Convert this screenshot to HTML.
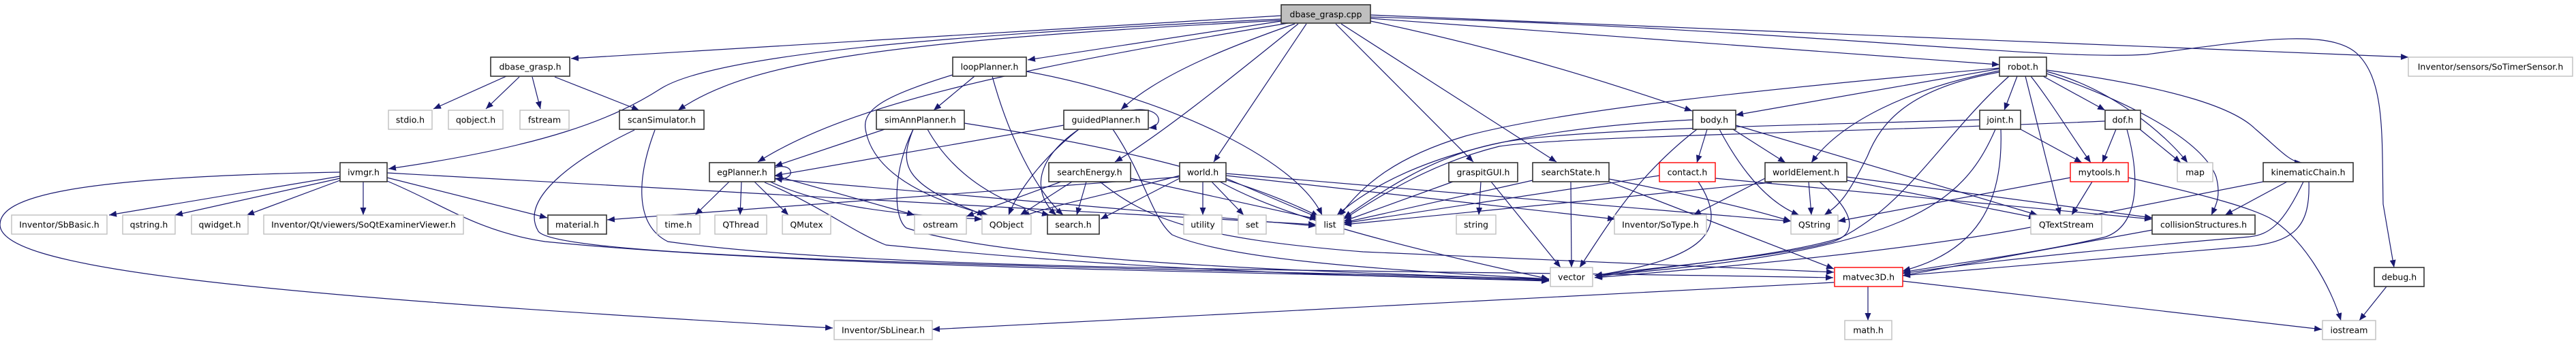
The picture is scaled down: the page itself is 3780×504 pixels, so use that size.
<!DOCTYPE html>
<html><head><meta charset="utf-8"><style>
html,body{margin:0;padding:0;background:#fff;}
svg{display:block;}
text{font-family:"DejaVu Sans","Liberation Sans",sans-serif;font-size:12.5px;fill:#000;text-anchor:middle;dominant-baseline:central;}
.e{fill:none;stroke:#191970;stroke-width:1.2;marker-end:url(#a);}
.b{fill:#fff;stroke:#333;stroke-width:1.6;}
.g{fill:#fff;stroke:#bfbfbf;stroke-width:1.4;}
.r{fill:#fff;stroke:#ff0000;stroke-width:1.4;}
</style></head><body>
<svg width="3780" height="504" viewBox="0 0 3780 504" xmlns="http://www.w3.org/2000/svg">
<defs><marker id="a" markerUnits="userSpaceOnUse" markerWidth="12" markerHeight="9" refX="11" refY="4.5" orient="auto"><path d="M0,0 L11,4.5 L0,9 z" fill="#191970"/></marker></defs>
<g>
<path class="e" d="M1880,23 L838,86"/>
<path class="e" d="M1880,28 C1400,50 1050,80 970,130 C900,175 800,215 570,248"/>
<path class="e" d="M1880,30 C1300,60 1100,90 995,162"/>
<path class="e" d="M1890,34 C1500,100 1250,150 1112,238"/>
<path class="e" d="M1880,31 L1508,88"/>
<path class="e" d="M1900,35 C1800,70 1700,110 1645,161"/>
<path class="e" d="M1905,35 C1800,120 1700,200 1636,238"/>
<path class="e" d="M1917,35 L1781,238"/>
<path class="e" d="M1960,35 L2162,238"/>
<path class="e" d="M1968,35 L2284,238"/>
<path class="e" d="M2011,31 C2150,60 2300,100 2483,163"/>
<path class="e" d="M2011,27 L2934,95"/>
<path class="e" d="M2011,22 L3534,84"/>
<path class="e" d="M2011,25 C2600,40 3000,90 3150,80 C3300,60 3420,40 3460,80 C3500,120 3495,200 3497,300 L3513,393"/>
<path class="e" d="M743,112 L636,160"/>
<path class="e" d="M762,113 L713,160"/>
<path class="e" d="M781,113 L793,160"/>
<path class="e" d="M814,113 L938,162"/>
<path class="e" d="M931,191 C850,230 760,290 790,340 C820,380 1500,390 2273,410"/>
<path class="e" d="M961,191 C935,260 930,330 980,355 C1300,400 2000,395 2690,408"/>
<path class="e" d="M499,259 L160,316"/>
<path class="e" d="M499,262 L257,316"/>
<path class="e" d="M499,265 L362,316"/>
<path class="e" d="M533,267 L533,316"/>
<path class="e" d="M568,261 L803,320"/>
<path class="e" d="M499,253 C100,260 0,290 0,330 C0,390 300,430 1222,482"/>
<path class="e" d="M568,266 C650,300 700,340 800,355 C1200,395 1900,400 2273,412"/>
<path class="e" d="M568,254 L1931,330"/>
<path class="e" d="M1070,267 L1020,316"/>
<path class="e" d="M1088,267 L1086,316"/>
<path class="e" d="M1107,267 L1157,316"/>
<path class="e" d="M1137,246 C1168,238 1168,268 1137,262"/>
<path class="e" d="M1137,258 L1342,316"/>
<path class="e" d="M1130,267 C1200,300 1300,315 1441,322"/>
<path class="e" d="M1137,263 L1931,332"/>
<path class="e" d="M1122,268 C1200,300 1250,340 1300,360 C1700,400 2000,405 2273,413"/>
<path class="e" d="M1430,112 L1370,162"/>
<path class="e" d="M1456,112 C1480,200 1520,280 1560,316"/>
<path class="e" d="M1506,105 C1700,140 1900,230 1940,316"/>
<path class="e" d="M1398,110 C1300,140 1265,160 1270,190 C1280,250 1350,290 1450,316"/>
<path class="e" d="M1298,190 L1137,244"/>
<path class="e" d="M1340,190 C1320,240 1320,270 1445,316"/>
<path class="e" d="M1361,190 C1400,260 1470,300 1540,316"/>
<path class="e" d="M1415,181 C1600,210 1800,250 1935,318"/>
<path class="e" d="M1340,190 C1310,250 1310,320 1330,335 C1500,390 2000,400 2273,411"/>
<path class="e" d="M1660,162 C1705,155 1710,185 1686,188"/>
<path class="e" d="M1561,184 L1137,258"/>
<path class="e" d="M1583,190 C1520,240 1490,290 1480,316"/>
<path class="e" d="M1583,190 C1510,240 1520,290 1550,316"/>
<path class="e" d="M1633,190 C1680,260 1690,320 1720,345 C1800,380 2000,395 2273,410"/>
<path class="e" d="M1557,267 L1418,318"/>
<path class="e" d="M1573,267 L1497,316"/>
<path class="e" d="M1594,267 L1580,316"/>
<path class="e" d="M1614,267 C1680,320 1750,350 2000,370 C2300,385 2500,390 2691,400"/>
<path class="e" d="M1659,262 L1933,322"/>
<path class="e" d="M1765,267 L1765,316"/>
<path class="e" d="M1778,267 L1825,316"/>
<path class="e" d="M1799,262 L1935,320"/>
<path class="e" d="M1731,258 C1650,280 1550,300 1500,318"/>
<path class="e" d="M1731,262 L1615,322"/>
<path class="e" d="M1731,260 L891,323"/>
<path class="e" d="M1790,267 C1850,300 1950,340 2273,410"/>
<path class="e" d="M1799,255 L2628,325"/>
<path class="e" d="M1799,258 L2370,322"/>
<path class="e" d="M2173,267 L2170,316"/>
<path class="e" d="M2188,267 L2290,393"/>
<path class="e" d="M2132,267 L1972,325"/>
<path class="e" d="M2305,267 L2306,393"/>
<path class="e" d="M2249,265 L1972,327"/>
<path class="e" d="M2361,263 C2500,290 2580,310 2628,325"/>
<path class="e" d="M2361,267 L2691,395"/>
<path class="e" d="M2435,258 L1972,328"/>
<path class="e" d="M2492,267 C2540,340 2500,380 2340,405"/>
<path class="e" d="M2517,262 L3158,322"/>
<path class="e" d="M2505,190 L2490,239"/>
<path class="e" d="M2543,190 L2620,239"/>
<path class="e" d="M2484,176 C2200,190 2050,240 1962,316"/>
<path class="e" d="M2490,190 C2400,260 2360,330 2318,393"/>
<path class="e" d="M2523,190 C2560,260 2600,300 2640,316"/>
<path class="e" d="M2547,184 L2990,316"/>
<path class="e" d="M2654,267 L2658,316"/>
<path class="e" d="M2710,265 L2988,320"/>
<path class="e" d="M2590,262 L2485,316"/>
<path class="e" d="M2670,267 C2730,320 2720,345 2690,355 C2600,380 2400,395 2340,405"/>
<path class="e" d="M2710,260 L3158,320"/>
<path class="e" d="M2600,268 L1972,330"/>
<path class="e" d="M2934,101 L2547,169"/>
<path class="e" d="M2934,104 C2800,130 2700,180 2658,239"/>
<path class="e" d="M2960,112 L2941,162"/>
<path class="e" d="M2998,112 L3089,162"/>
<path class="e" d="M2980,112 C3010,150 3040,200 3068,239"/>
<path class="e" d="M2972,112 L3023,316"/>
<path class="e" d="M2934,106 C2800,130 2760,180 2740,230 C2710,290 2700,300 2677,316"/>
<path class="e" d="M2948,112 C2850,200 2800,300 2700,350 C2600,380 2400,395 2340,408"/>
<path class="e" d="M2934,100 C2600,130 2300,160 2150,200 C2050,230 2000,270 1965,318"/>
<path class="e" d="M3003,105 C3100,130 3180,200 3210,239"/>
<path class="e" d="M3003,103 C3200,130 3280,160 3310,190 C3340,215 3360,239 3378,239"/>
<path class="e" d="M3003,108 C3100,140 3230,200 3252,260 C3260,290 3250,305 3245,316"/>
<path class="e" d="M2965,190 L3055,239"/>
<path class="e" d="M2905,176 C2600,185 2300,190 2200,210 C2100,230 2030,280 1972,320"/>
<path class="e" d="M2928,190 C2880,300 2800,370 2340,405"/>
<path class="e" d="M2936,190 C2940,300 2900,370 2792,398"/>
<path class="e" d="M3105,190 L3085,239"/>
<path class="e" d="M3140,190 L3200,239"/>
<path class="e" d="M3089,178 C2700,195 2300,200 2200,215 C2100,240 2030,285 1972,322"/>
<path class="e" d="M3121,190 C3140,260 3140,330 3090,348 C3000,370 2850,390 2792,400"/>
<path class="e" d="M3070,267 L3040,316"/>
<path class="e" d="M3038,261 L2697,325"/>
<path class="e" d="M3123,261 C3250,290 3300,305 3330,320 C3380,350 3420,420 3435,471"/>
<path class="e" d="M3356,267 L3265,316"/>
<path class="e" d="M3321,267 L3000,330 C2800,370 2500,395 2340,408"/>
<path class="e" d="M3380,267 C3350,330 3330,345 3300,348 C3100,365 2900,385 2792,402"/>
<path class="e" d="M3388,267 C3390,330 3370,355 3300,362 L2792,405"/>
<path class="e" d="M3158,338 L2792,405"/>
<path class="e" d="M2741,421 L2741,471"/>
<path class="e" d="M2792,413 L3407,484"/>
<path class="e" d="M2691,415 L1368,484"/>
<path class="e" d="M3502,421 L3462,471"/>
</g>
<g>
<rect x="1880" y="7" width="131" height="27" fill="#bfbfbf" stroke="#333" stroke-width="1.6"/><text x="1945.5" y="21">dbase_grasp.cpp</text>

<rect class="b" x="720" y="84" width="116" height="28"/><text x="778" y="98">dbase_grasp.h</text>
<rect class="b" x="1398" y="84" width="108" height="28"/><text x="1452" y="98">loopPlanner.h</text>
<rect class="b" x="2934" y="84" width="69" height="28"/><text x="2968.5" y="98">robot.h</text>
<rect class="g" x="3534" y="84" width="241" height="28"/><text x="3654.5" y="98">Inventor/sensors/SoTimerSensor.h</text>

<rect class="g" x="570" y="162" width="64" height="28"/><text x="602" y="176">stdio.h</text>
<rect class="g" x="658" y="162" width="80" height="28"/><text x="698" y="176">qobject.h</text>
<rect class="g" x="763" y="162" width="72" height="28"/><text x="799" y="176">fstream</text>
<rect class="b" x="909" y="162" width="124" height="28"/><text x="971" y="176">scanSimulator.h</text>
<rect class="b" x="1286" y="162" width="129" height="28"/><text x="1350.5" y="176">simAnnPlanner.h</text>
<rect class="b" x="1561" y="162" width="124" height="28"/><text x="1623" y="176">guidedPlanner.h</text>
<rect class="b" x="2484" y="162" width="63" height="28"/><text x="2515.5" y="176">body.h</text>
<rect class="b" x="2905" y="162" width="60" height="28"/><text x="2935" y="176">joint.h</text>
<rect class="b" x="3089" y="162" width="52" height="28"/><text x="3115" y="176">dof.h</text>

<rect class="b" x="499" y="239" width="69" height="28"/><text x="533.5" y="253">ivmgr.h</text>
<rect class="b" x="1041" y="239" width="96" height="28"/><text x="1089" y="253">egPlanner.h</text>
<rect class="b" x="1539" y="239" width="120" height="28"/><text x="1599" y="253">searchEnergy.h</text>
<rect class="b" x="1731" y="239" width="68" height="28"/><text x="1765" y="253">world.h</text>
<rect class="b" x="2126" y="239" width="101" height="28"/><text x="2176.5" y="253">graspitGUI.h</text>
<rect class="b" x="2249" y="239" width="112" height="28"/><text x="2305" y="253">searchState.h</text>
<rect class="r" x="2435" y="239" width="82" height="28"/><text x="2476" y="253">contact.h</text>
<rect class="b" x="2590" y="239" width="120" height="28"/><text x="2650" y="253">worldElement.h</text>
<rect class="r" x="3038" y="239" width="85" height="28"/><text x="3080.5" y="253">mytools.h</text>
<rect class="g" x="3195" y="239" width="52" height="28"/><text x="3221" y="253">map</text>
<rect class="b" x="3321" y="239" width="132" height="28"/><text x="3387" y="253">kinematicChain.h</text>

<rect class="g" x="17" y="316" width="140" height="28"/><text x="87" y="330">Inventor/SbBasic.h</text>
<rect class="g" x="180" y="316" width="77" height="28"/><text x="218.5" y="330">qstring.h</text>
<rect class="g" x="281" y="316" width="83" height="28"/><text x="322.5" y="330">qwidget.h</text>
<rect class="g" x="387" y="316" width="293" height="28"/><text x="533.5" y="330">Inventor/Qt/viewers/SoQtExaminerViewer.h</text>
<rect class="b" x="804" y="316" width="86" height="28"/><text x="847" y="330">material.h</text>
<rect class="g" x="964" y="316" width="63" height="28"/><text x="995.5" y="330">time.h</text>
<rect class="g" x="1049" y="316" width="76" height="28"/><text x="1087" y="330">QThread</text>
<rect class="g" x="1148" y="316" width="71" height="28"/><text x="1183.5" y="330">QMutex</text>
<rect class="g" x="1342" y="316" width="76" height="28"/><text x="1380" y="330">ostream</text>
<rect class="g" x="1441" y="316" width="72" height="28"/><text x="1477" y="330">QObject</text>
<rect class="b" x="1537" y="316" width="76" height="28"/><text x="1575" y="330">search.h</text>
<rect class="g" x="1737" y="316" width="56" height="28"/><text x="1765" y="330">utility</text>
<rect class="g" x="1817" y="316" width="41" height="28"/><text x="1837.5" y="330">set</text>
<rect class="g" x="1931" y="316" width="41" height="28"/><text x="1951.5" y="330">list</text>
<rect class="g" x="2137" y="316" width="58" height="28"/><text x="2166" y="330">string</text>
<rect class="g" x="2369" y="316" width="135" height="28"/><text x="2436.5" y="330">Inventor/SoType.h</text>
<rect class="g" x="2628" y="316" width="69" height="28"/><text x="2662.5" y="330">QString</text>
<rect class="g" x="2980" y="316" width="104" height="28"/><text x="3032" y="330">QTextStream</text>
<rect class="b" x="3158" y="316" width="151" height="28"/><text x="3233.5" y="330">collisionStructures.h</text>

<rect class="g" x="2275" y="393" width="62" height="28"/><text x="2306" y="407">vector</text>
<rect class="r" x="2692" y="393" width="100" height="28"/><text x="2742" y="407">matvec3D.h</text>
<rect class="b" x="3484" y="393" width="73" height="28"/><text x="3520.5" y="407">debug.h</text>

<rect class="g" x="1224" y="471" width="144" height="28"/><text x="1296" y="485">Inventor/SbLinear.h</text>
<rect class="g" x="2707" y="471" width="69" height="28"/><text x="2741.5" y="485">math.h</text>
<rect class="g" x="3408" y="471" width="78" height="28"/><text x="3447" y="485">iostream</text>
</g>
</svg>
</body></html>
